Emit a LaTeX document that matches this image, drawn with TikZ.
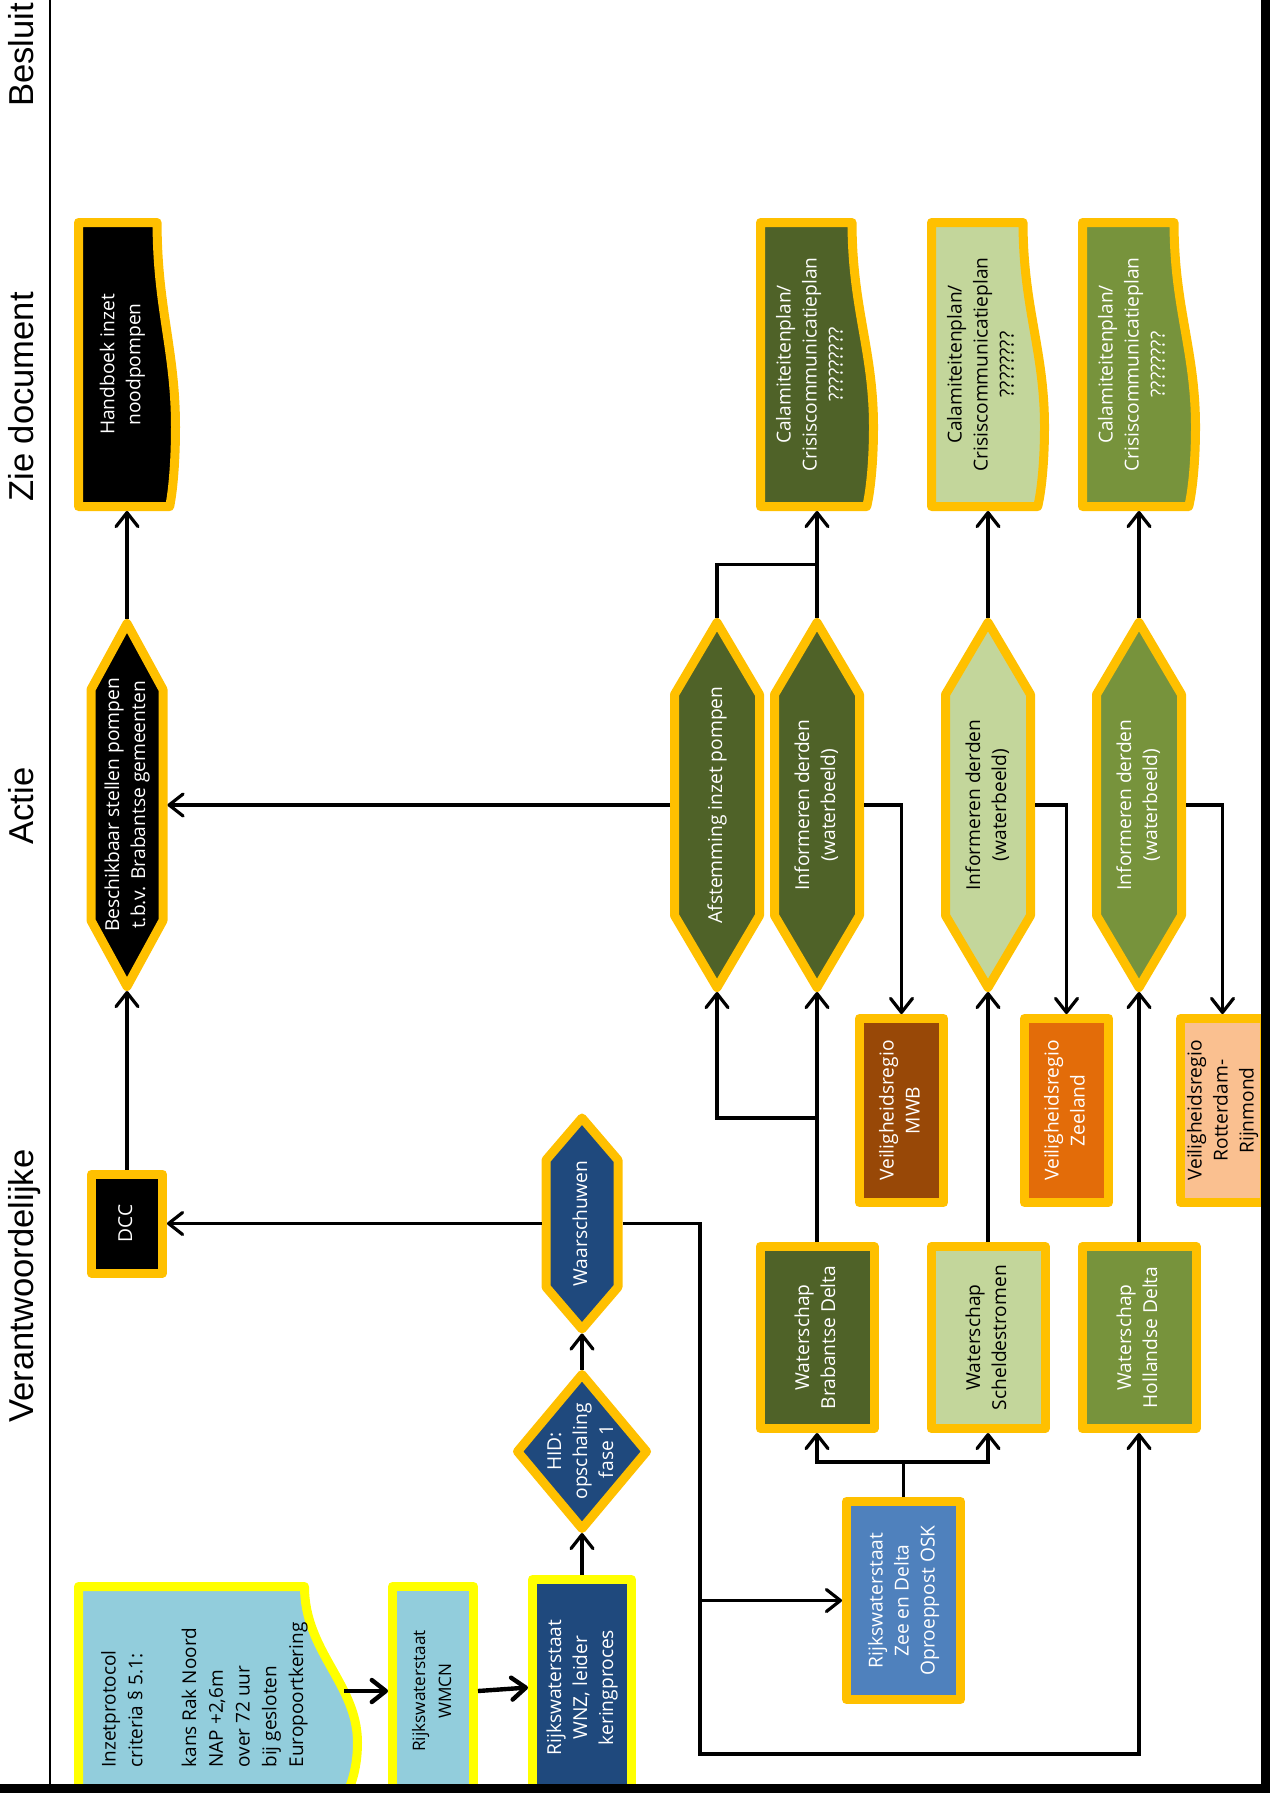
\documentclass[tikz,border=0pt]{standalone}
\usepackage{fontspec}
\setmainfont{Open Sans}
\newfontfamily\lanefont{Liberation Sans}
\usepackage{graphicx}
\usetikzlibrary{arrows.meta,calc}

\definecolor{rimorange}{HTML}{FFC000}
\definecolor{rimyellow}{HTML}{FFFF00}
\definecolor{skyfill}{HTML}{92CDDC}
\definecolor{navyfill}{HTML}{1F497D}
\definecolor{bluefill}{HTML}{4F81BD}
\definecolor{darkolive}{HTML}{4F6228}
\definecolor{paleolive}{HTML}{C3D69B}
\definecolor{midolive}{HTML}{77933C}
\definecolor{brownfill}{HTML}{984807}
\definecolor{orangefill}{HTML}{E36C09}
\definecolor{peachfill}{HTML}{FAC090}

% rotated multi-line text
\newcommand\vtext[2][c]{\rotatebox{90}{\begin{tabular}{@{}#1@{}}#2\end{tabular}}}

% hexagon: name, cx, cy, outer half width, outer half height, tip, fill, text colour, text
\newcommand\hexbox[9]{%
  \draw[rim, fill=#7] (#2,#3-#5+4.5) -- (#2+#4-4.5,#3-#5+4.5+#6) -- (#2+#4-4.5,#3+#5-4.5-#6)
    -- (#2,#3+#5-4.5) -- (#2-#4+4.5,#3+#5-4.5-#6) -- (#2-#4+4.5,#3-#5+4.5+#6) -- cycle;
  \node[anchorbox, text=#8, minimum width={#4*1pt}, minimum height={#5*1pt}] (#1) at (#2,#3) {#9};}

% document: name, left, top, right, bottom (outer), fill, rim, text colour, text
\newcommand\docbox[9]{%
  \pgfmathsetmacro\docL{#2+4.5}\pgfmathsetmacro\docT{#3+4.5}%
  \pgfmathsetmacro\docR{#4-4.5}\pgfmathsetmacro\docB{#5-4.5}%
  \pgfmathsetmacro\docW{\docR-\docL}\pgfmathsetmacro\docH{\docB-\docT}%
  \draw[draw=#7, line width=4.5pt, line join=round, fill=#6] (\docL,\docT) -- (\docR-0.19*\docW,\docT)
    .. controls (\docR-0.19*\docW,\docT+0.3*\docH) and (\docR,\docT+0.45*\docH) .. (\docR,\docT+0.72*\docH)
    .. controls (\docR,\docT+0.85*\docH) and (\docR-0.03*\docW,\docB-0.05*\docH) .. (\docR-0.06*\docW,\docB)
    -- (\docL,\docB) -- cycle;
  \node[anchorbox, minimum width={(#4-#2)*0.5pt}, minimum height={(#5-#3)*0.5pt}] (#1) at ({(#2+#4)/2},{(#3+#5)/2}) {};
  \node[text=#8] (#1txt) at ({(#2+#4)/2-0.05*\docW},{(#3+#5)/2}) {#9};}

\begin{document}
\begin{tikzpicture}[
  x=0.5pt, y=-0.5pt,
  font=\fontsize{9.6}{13}\selectfont,
  rim/.style={draw=rimorange, line width=4.5pt, line join=round},
  yellowrim/.style={draw=rimyellow},
  box/.style={rim, inner sep=0pt, text=white},
  wsbox/.style={box, minimum width=57pt, minimum height=91pt},
  vrbox/.style={box, minimum width=42pt, minimum height=92pt},
  anchorbox/.style={inner sep=0pt, outer sep=0pt},
  lane/.style={font=\lanefont\fontsize{17.3}{20}\selectfont},
  wire/.style={line width=1.6pt},
  arrow/.style={wire, -{Straight Barb[length=7pt, width=11pt, round]}},
  bigarrow/.style={arrow, line width=2.2pt},
  frame/.style={line width=4.5pt},
]
\useasboundingbox (0,0) rectangle (1283,1793);
\clip (0,0) rectangle (1283,1793);

% ===== lane headers =====
\node[lane] (besluit) at (26,55) {\vtext{Besluit}};
\node[lane] (ziedoc) at (26,397) {\vtext{Zie document}};
\node[lane] (actie) at (26,806) {\vtext{Actie}};
\node[lane] (verantw) at (26,1286) {\vtext{Verantwoordelijke}};

% ===== Verantwoordelijke =====
\docbox{inzet}{74}{1582}{362}{1808}{skyfill}{rimyellow}{black}{\fontsize{9.5}{13.4}\selectfont\vtext[l]{Inzetprotocol\\criteria § 5.1:\\ \\kans Rak Noord\\NAP +2,6m\\over 72 uur\\bij gesloten\\Europoortkering}}
\node[box, yellowrim, fill=skyfill, text=black, minimum width=40.5pt, minimum height=104.5pt,
      font=\fontsize{8.6}{13}\selectfont] (wmcn) at (433,1691) {\vtext{Rijkswaterstaat\\WMCN}};
\node[box, yellowrim, fill=navyfill, minimum width=49.5pt, minimum height=108pt] (wnz) at (582,1687.5)
      {\vtext{Rijkswaterstaat\\WNZ, leider\\keringproces}};

\draw[rim, fill=navyfill] (582,1374.5) -- (646.5,1451.5) -- (582,1528.5) -- (517.5,1451.5) -- cycle;
\node[anchorbox, text=white, minimum width=69pt, minimum height=81.5pt] (hid) at (582,1451.5)
      {\vtext{HID:\\opschaling\\fase 1}};
\hexbox{warn}{582}{1223.5}{40.5}{110}{42}{navyfill}{white}{\vtext{Waarschuwen}}
\node[box, fill=black, minimum width=35.5pt, minimum height=49.5pt] (dcc) at (127,1223.5) {\vtext{DCC}};

\node[box, fill=bluefill, minimum width=57pt, minimum height=99pt] (osk) at (903.5,1600.5)
      {\vtext{Rijkswaterstaat\\Zee en Delta\\Oproeppost OSK}};
\node[wsbox, fill=darkolive] (bd) at (817,1337.5) {\vtext{Waterschap\\Brabantse Delta}};
\node[wsbox, fill=paleolive, text=black] (ss) at (988,1337.5) {\vtext{Waterschap\\Scheldestromen}};
\node[wsbox, fill=midolive] (hd) at (1139,1337.5) {\vtext{Waterschap\\Hollandse Delta}};

\node[vrbox, fill=brownfill] (mwb) at (901.5,1110.5) {\vtext{Veiligheidsregio\\MWB}};
\node[vrbox, fill=orangefill] (zee) at (1066.5,1110.5) {\vtext{Veiligheidsregio\\Zeeland}};
\node[vrbox, fill=peachfill, text=black] (rot) at (1222.5,1110.5) {\vtext{Veiligheidsregio\\Rotterdam-\\Rijnmond}};

% ===== Actie =====
\hexbox{besch}{127}{805}{40.5}{186}{66}{black}{white}{\vtext{Beschikbaar stellen pompen\\t.b.v. Brabantse gemeenten}}
\hexbox{afst}{717}{805}{47}{187}{72}{darkolive}{white}{\vtext{Afstemming inzet pompen}}
\hexbox{inf1}{817}{805}{47}{187}{72}{darkolive}{white}{\vtext{Informeren derden\\(waterbeeld)}}
\hexbox{inf2}{988}{805}{47}{187}{72}{paleolive}{black}{\vtext{Informeren derden\\(waterbeeld)}}
\hexbox{inf3}{1139}{805}{47}{187}{72}{midolive}{white}{\vtext{Informeren derden\\(waterbeeld)}}

% ===== Zie document =====
\docbox{handboek}{74}{218}{180}{511}{black}{rimorange}{white}{\vtext{Handboek inzet\\noodpompen}}
\docbox{cal1}{756}{218}{878}{511}{darkolive}{rimorange}{white}{\vtext{Calamiteitenplan/\\Crisiscommunicatieplan\\?????????}}
\docbox{cal2}{927}{218}{1049}{511}{paleolive}{rimorange}{black}{\vtext{Calamiteitenplan/\\Crisiscommunicatieplan\\????????}}
\docbox{cal3}{1078}{218}{1200}{511}{midolive}{rimorange}{white}{\vtext{Calamiteitenplan/\\Crisiscommunicatieplan\\????????}}

% ===== connectors =====
\draw[bigarrow] ([xshift=-22pt]wmcn.west) -- (wmcn.west);
\draw[bigarrow] (wmcn.east) -- (wnz.west);
\draw[arrow] (wnz.north) -- (hid.south);
\draw[arrow] (hid.north) -- (warn.south);
\draw[arrow] (warn.west) -- (dcc.east);
\draw[arrow] (dcc.north) -- (besch.south);
\draw[arrow] (besch.north) -- (handboek.south);
\draw[arrow] (afst.west) -- (besch.east);

\coordinate (trunk) at (700,1754);
\draw[arrow] (warn.east) -| (trunk) -| (hd.south);
\draw[arrow] (trunk |- osk.west) -- (osk.west);
\draw[arrow] (osk.north) -- ++(0,-35) -| (bd.south);
\draw[arrow] (osk.north) -- ++(0,-35) -| (ss.south);

\draw[arrow] (bd.north) -- (inf1.south);
\draw[arrow] (bd.north) ++(0,-124) -| (afst.south);
\draw[arrow] (ss.north) -- (inf2.south);
\draw[arrow] (hd.north) -- (inf3.south);

\draw[arrow] (inf1.north) -- (cal1.south);
\draw[wire] (afst.north) |- ($(inf1.north)!0.5!(cal1.south)$);
\draw[arrow] (inf2.north) -- (cal2.south);
\draw[arrow] (inf3.north) -- (cal3.south);

\draw[arrow] (inf1.east) -| (mwb.north);
\draw[arrow] (inf2.east) -| (zee.north);
\draw[arrow] (inf3.east) -| (rot.north);

% ===== frame =====
\draw[line width=1.2pt] (50,0) -- (50,1793);
\draw[frame] (1265.5,0) -- (1265.5,1793);
\draw[frame] (0,1788.5) -- (1270,1788.5);
\end{tikzpicture}
\end{document}
